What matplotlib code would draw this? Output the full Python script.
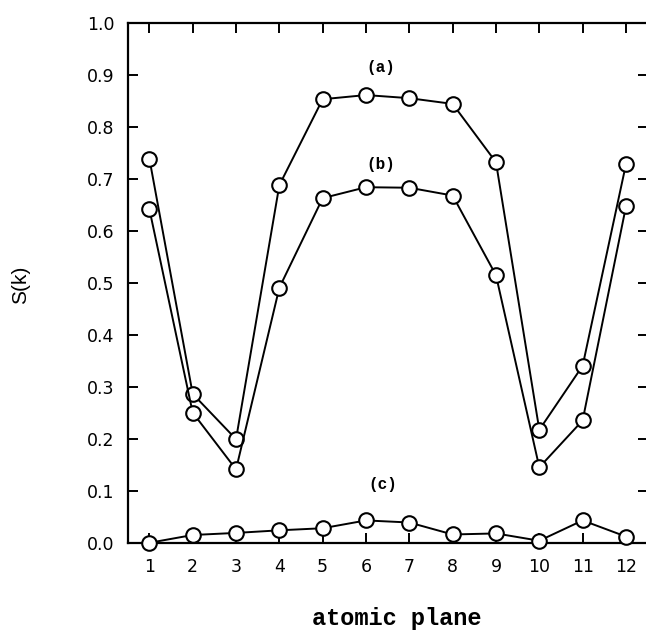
import matplotlib
matplotlib.use("Agg")
import matplotlib.pyplot as plt

# atomic plane index and structure factor S(k) for three cases
planes = [1, 2, 3, 4, 5, 6, 7, 8, 9, 10, 11, 12]
s_a = [0.739, 0.287, 0.200, 0.688, 0.853, 0.861, 0.855, 0.844, 0.732, 0.218, 0.341, 0.728]
s_b = [0.642, 0.251, 0.142, 0.491, 0.663, 0.684, 0.683, 0.668, 0.515, 0.146, 0.236, 0.647]
s_c = [0.001, 0.016, 0.020, 0.025, 0.029, 0.044, 0.040, 0.017, 0.019, 0.005, 0.044, 0.013]

y_ticks = [0.0, 0.1, 0.2, 0.3, 0.4, 0.5, 0.6, 0.7, 0.8, 0.9, 1.0]
y_labels = ["0.0", "0.1", "0.2", "0.3", "0.4", "0.5", "0.6", "0.7", "0.8", "0.9", "1.0"]

curve_tags = ["(a)", "(b)", "(c)"]
tag_x = [6.35, 6.35, 6.39]
tag_y = [0.913, 0.727, 0.113]

fig = plt.figure(figsize=(6.46, 6.32), dpi=100)
ax = fig.add_axes([0.1977, 0.1403, 0.8048, 0.8238])

style = dict(color="black", lw=1.4, marker="o", ms=10.5, mfc="white",
             mec="black", mew=1.5, clip_on=False, zorder=3)
for series in (s_a, s_b, s_c):
    ax.plot(planes, series, **style)

ax.set_xlim(0.5, 12.5)
ax.set_ylim(0.0, 1.0)
ax.set_xticks(planes)
ax.set_xticklabels([str(p) for p in planes])
ax.set_yticks(y_ticks)
ax.set_yticklabels(y_labels)

for sp in ax.spines.values():
    sp.set_linewidth(1.6)

ax.tick_params(axis="both", which="major", direction="in", length=7.5,
               width=1.4, top=True, right=True, labelsize=12.5)
ax.tick_params(axis="y", pad=9.5)
ax.tick_params(axis="x", pad=10.5)
for lab in ax.get_xticklabels() + ax.get_yticklabels():
    lab.set_family("DejaVu Sans")

for tag, tx, ty in zip(curve_tags, tag_x, tag_y):
    ax.text(tx, ty, tag, ha="center", va="center", fontsize=11.5,
            family="Liberation Mono", fontweight="bold")

fig.text(396.5 / 646, 1 - 619 / 632, "atomic plane", ha="center", va="center",
         fontsize=17, family="Liberation Mono", fontweight="bold")
fig.text(21 / 646, 1 - 285 / 632, "S(k)", ha="center", va="center",
         rotation=90, fontsize=15, family="Liberation Sans")

fig.savefig("out.png", dpi=100)
